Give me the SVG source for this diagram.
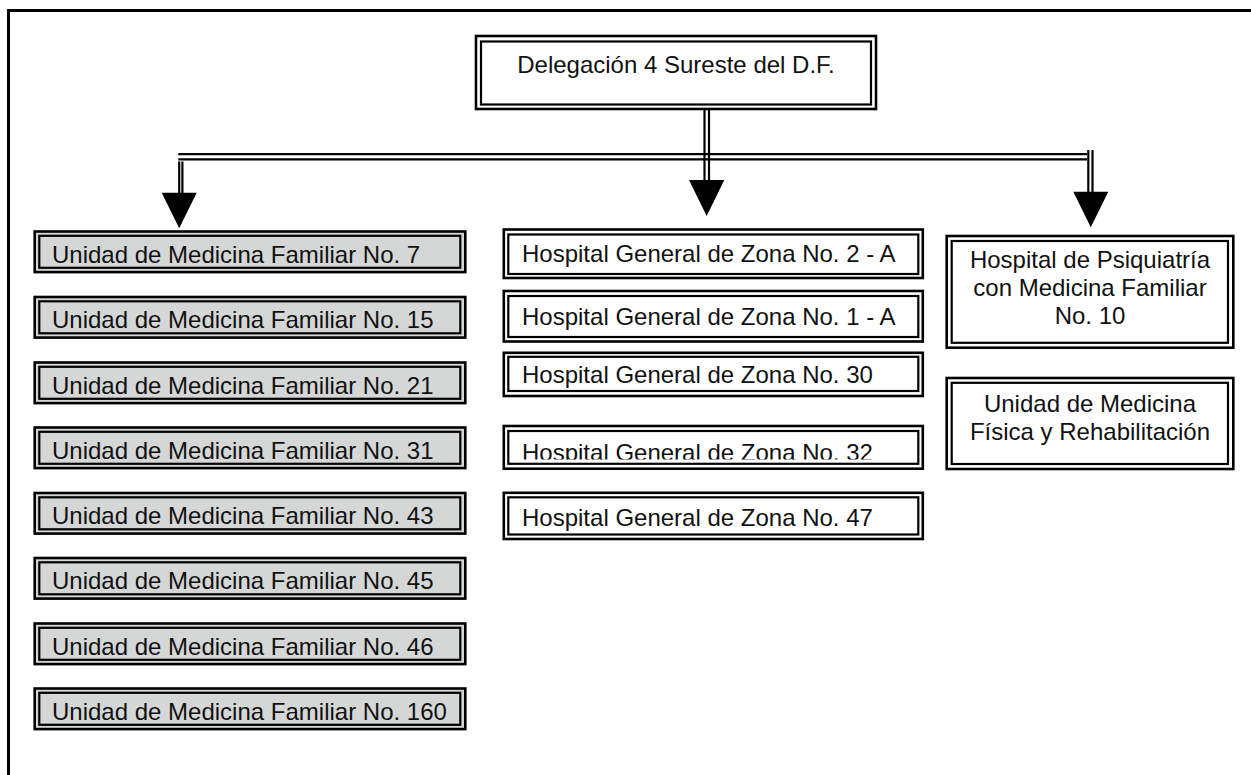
<svg xmlns="http://www.w3.org/2000/svg" width="1251" height="775" viewBox="0 0 1251 775">
  <style>
    text { font-family: "Liberation Sans", Arial, sans-serif; font-size: 24px; fill: #111; }
    .mid { text-anchor: middle; }
    .o { stroke: #000; stroke-width: 2.6; }
    .i { fill: none; stroke: #000; stroke-width: 2.2; }
    .gray { fill: #d5d7d7; }
    .white { fill: #fff; }
    .ln { stroke: #000; stroke-width: 2.2; fill: none; }
    .head { fill: #000; }
    .frame { stroke: #000; stroke-width: 3; fill: none; }
  </style>
  <defs>
    <clipPath id="clip32">
      <rect x="508" y="430" width="411" height="29.5"/>
    </clipPath>
  </defs>

  <rect width="1251" height="775" fill="#fff"/>

  <!-- page frame (top and left rules only) -->
  <g id="frame">
    <line class="frame" x1="7" y1="10.5" x2="1251" y2="10.5"/>
    <line class="frame" x1="8.5" y1="9" x2="8.5" y2="775"/>
  </g>

  <!-- connectors -->
  <g id="connectors">
    <line class="ln" x1="178.3" y1="154.2" x2="1087" y2="154.2"/>
    <line class="ln" x1="178.3" y1="159.3" x2="1087" y2="159.3"/>
    <line class="ln" x1="704.5" y1="109" x2="704.5" y2="181"/>
    <line class="ln" x1="709" y1="109" x2="709" y2="181"/>
    <line class="ln" x1="179.2" y1="161.5" x2="179.2" y2="194"/>
    <line class="ln" x1="182.4" y1="161.5" x2="182.4" y2="194"/>
    <line class="ln" x1="1088.3" y1="150" x2="1088.3" y2="193"/>
    <line class="ln" x1="1092.5" y1="150" x2="1092.5" y2="193"/>
    <polygon class="head" points="161.7,192.7 196.7,192.7 179.2,228.3"/>
    <polygon class="head" points="689,180 724.3,180 706.7,216"/>
    <polygon class="head" points="1073.3,191.7 1108.3,191.7 1090.8,227.3"/>
  </g>

  <!-- root -->
  <g id="delegacion">
    <rect class="o white" x="476" y="36" width="400" height="73"/>
    <rect class="i" x="481" y="41.5" width="390" height="63"/>
    <text class="mid" x="676" y="73">Delegación 4 Sureste del D.F.</text>
  </g>

  <!-- family medicine units -->
  <g id="umf7">
    <rect class="o gray" x="34.7" y="231.5" width="430.6" height="40.6"/>
    <rect class="i" x="39.3" y="235.8" width="421" height="32"/>
    <text x="52" y="262.5">Unidad de Medicina Familiar No. 7</text>
  </g>
  <g id="umf15">
    <rect class="o gray" x="34.7" y="297" width="430.6" height="40.6"/>
    <rect class="i" x="39.3" y="301.3" width="421" height="32"/>
    <text x="52" y="328">Unidad de Medicina Familiar No. 15</text>
  </g>
  <g id="umf21">
    <rect class="o gray" x="34.7" y="362.5" width="430.6" height="40.6"/>
    <rect class="i" x="39.3" y="366.8" width="421" height="32"/>
    <text x="52" y="393.5">Unidad de Medicina Familiar No. 21</text>
  </g>
  <g id="umf31">
    <rect class="o gray" x="34.7" y="427.5" width="430.6" height="40.6"/>
    <rect class="i" x="39.3" y="431.8" width="421" height="32"/>
    <text x="52" y="458.5">Unidad de Medicina Familiar No. 31</text>
  </g>
  <g id="umf43">
    <rect class="o gray" x="34.7" y="493" width="430.6" height="40.6"/>
    <rect class="i" x="39.3" y="497.3" width="421" height="32"/>
    <text x="52" y="524">Unidad de Medicina Familiar No. 43</text>
  </g>
  <g id="umf45">
    <rect class="o gray" x="34.7" y="558" width="430.6" height="40.6"/>
    <rect class="i" x="39.3" y="562.3" width="421" height="32"/>
    <text x="52" y="589">Unidad de Medicina Familiar No. 45</text>
  </g>
  <g id="umf46">
    <rect class="o gray" x="34.7" y="623.5" width="430.6" height="40.6"/>
    <rect class="i" x="39.3" y="627.8" width="421" height="32"/>
    <text x="52" y="654.5">Unidad de Medicina Familiar No. 46</text>
  </g>
  <g id="umf160">
    <rect class="o gray" x="34.7" y="688.5" width="430.6" height="40.6"/>
    <rect class="i" x="39.3" y="692.8" width="421" height="32"/>
    <text x="52" y="719.5">Unidad de Medicina Familiar No. 160</text>
  </g>

  <!-- general hospitals -->
  <g id="hgz2a">
    <rect class="o white" x="503.8" y="229.5" width="419" height="48.5"/>
    <rect class="i" x="508.3" y="234.5" width="410" height="39.5"/>
    <text x="522" y="262.3">Hospital General de Zona No. 2 - A</text>
  </g>
  <g id="hgz1a">
    <rect class="o white" x="503.8" y="291" width="419" height="50.5"/>
    <rect class="i" x="508.3" y="296" width="410" height="41"/>
    <text x="522" y="325.3">Hospital General de Zona No. 1 - A</text>
  </g>
  <g id="hgz30">
    <rect class="o white" x="503.8" y="352.8" width="419" height="43.2"/>
    <rect class="i" x="508.3" y="356.8" width="410" height="34.2"/>
    <text x="522" y="382.7">Hospital General de Zona No. 30</text>
  </g>
  <g id="hgz32">
    <rect class="o white" x="503.8" y="426" width="419" height="42.7"/>
    <rect class="i" x="508.3" y="431" width="410" height="32.8"/>
    <text x="522" y="460.5" clip-path="url(#clip32)">Hospital General de Zona No. 32</text>
  </g>
  <g id="hgz47">
    <rect class="o white" x="503.8" y="492.8" width="419" height="46.2"/>
    <rect class="i" x="508.3" y="497.3" width="410" height="37.2"/>
    <text x="522" y="525.5">Hospital General de Zona No. 47</text>
  </g>

  <!-- specialised units -->
  <g id="psiquiatria">
    <rect class="o white" x="946.7" y="236" width="286.6" height="111.7"/>
    <rect class="i" x="951.7" y="241" width="276.3" height="101.8"/>
    <text class="mid" x="1090" y="268.3">Hospital de Psiquiatría</text>
    <text class="mid" x="1090" y="296">con Medicina Familiar</text>
    <text class="mid" x="1090" y="323.5">No. 10</text>
  </g>
  <g id="rehabilitacion">
    <rect class="o white" x="946.7" y="378" width="286.6" height="91"/>
    <rect class="i" x="951.7" y="382.8" width="276.3" height="81.2"/>
    <text class="mid" x="1090" y="411.7">Unidad de Medicina</text>
    <text class="mid" x="1090" y="440">Física y Rehabilitación</text>
  </g>
</svg>
